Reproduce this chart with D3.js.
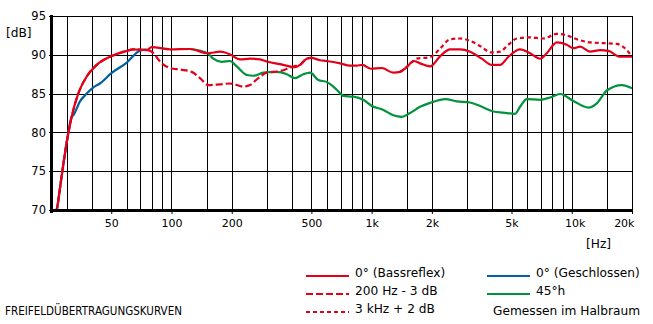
<!DOCTYPE html>
<html>
<head>
<meta charset="utf-8">
<script src="https://cdn.jsdelivr.net/npm/d3@7"></script>
<style>
  body { margin: 0; background: #fff; }
  text { font-family: "DejaVu Sans", Verdana, sans-serif; font-size: 12.2px; fill: #000; }
</style>
</head>
<body>
<div id="chart"></div>
<script>
// Margins, heights and widths
const margin = { top: 16, bottom: 114, left: 51, right: 21 };
const width = 653 - margin.left - margin.right;
const height = 324 - margin.top - margin.bottom;

// Frequency response data (Hz / dB)
const bassFreq = [25.5, 26.7, 28.3, 29.9, 31.7, 34.2, 37.7, 42.3, 49.9, 59.8, 64.2, 75.2, 79.6, 98.3, 123.8, 151.7, 174.8, 185.1, 197.7, 220, 246.9, 277, 302.6, 348.7, 414.3, 438.8, 474, 498.2, 552.5, 593.8, 695.5, 780.4, 842.6, 898.7, 993.4, 1123, 1284, 1387, 1509, 1616, 1746, 1959, 2198, 2466, 2767, 3105, 3552, 3985, 4383, 4824, 5518, 6191, 6946, 7503, 8417, 9445, 10190, 11005, 12348, 13855, 15245, 17446, 20000];
const bassDb = [68.5, 70.0, 74.5, 78.6, 82.0, 85.0, 87.2, 88.7, 89.8, 90.5, 90.7, 90.6, 91.0, 90.7, 90.75, 90.2, 90.4, 90.3, 90.0, 89.4, 89.5, 89.4, 89.1, 88.8, 88.4, 88.7, 89.5, 89.6, 89.3, 89.2, 88.9, 88.6, 88.6, 88.7, 88.2, 88.3, 87.7, 87.8, 88.5, 89.2, 88.9, 88.5, 89.8, 90.7, 90.7, 90.4, 89.5, 88.7, 88.7, 89.75, 90.7, 90.2, 89.5, 90.2, 91.6, 91.3, 90.85, 91.05, 90.4, 90.6, 90.5, 89.75, 89.75];

const lowCutFreq = [25.5, 26.7, 28.3, 29.9, 31.7, 34.2, 37.7, 42.3, 49.9, 59.8, 64.2, 75.2, 79.6, 89.4, 98.3, 110.3, 126.2, 138.8, 152.8, 174.8, 196.1, 228.6, 246.9, 271.6, 299.2, 348.7, 406.3, 438.8, 474, 498.2];
const lowCutDb = [68.5, 70.0, 74.5, 78.6, 82.0, 85.0, 87.2, 88.7, 89.8, 90.5, 90.7, 90.6, 90.4, 88.9, 88.3, 88.1, 87.8, 87.0, 86.1, 86.2, 86.3, 85.9, 86.1, 87.0, 87.7, 87.9, 88.5, 88.7, 89.5, 89.6];

const highBoostFreq = [1387, 1509, 1616, 1681, 1959, 2198, 2466, 2767, 3105, 3524, 3954, 4383, 4824, 5312, 6191, 7215, 8417, 9445, 10598, 12348, 14391, 16796, 18836, 20000];
const highBoostDb = [87.8, 88.5, 89.2, 89.5, 89.7, 90.8, 92.0, 92.1, 91.8, 91.05, 90.3, 90.4, 91.3, 92.1, 92.25, 92.1, 92.7, 92.5, 92.0, 91.6, 91.5, 91.4, 90.6, 89.75];

const closedFreq = [25.5, 26.7, 28.3, 29.9, 31.7, 32.3, 34.9, 37.7, 40.7, 43.9, 49.9, 59.8, 69.1, 75.2];
const closedDb = [68.5, 70.0, 74.5, 78.6, 82.0, 82.2, 84.0, 85.0, 85.8, 86.3, 87.6, 89.0, 90.5, 90.7];

const offAxisFreq = [123.8, 151.7, 161.8, 178.2, 196.1, 211.8, 237.7, 256.6, 287.8, 335.7, 376.6, 414.3, 455.8, 492.5, 541.8, 596.6, 669.5, 722.3, 810.6, 909.1, 1002, 1145, 1284, 1415, 1556, 1746, 1959, 2328, 2665, 3105, 3552, 4059, 4553, 5210, 5518, 5962, 6946, 7795, 8745, 10190, 12113, 13339, 14965, 17783, 20000];
const offAxisDb = [90.75, 90.2, 89.5, 89.1, 89.2, 88.5, 87.4, 87.3, 87.7, 87.8, 87.5, 87.0, 87.5, 87.7, 86.75, 86.5, 85.5, 84.7, 84.6, 84.2, 83.4, 82.9, 82.2, 82.0, 82.5, 83.3, 83.8, 84.3, 84.0, 83.85, 83.3, 82.7, 82.55, 82.4, 83.3, 84.3, 84.2, 84.5, 84.95, 84.05, 83.2, 83.75, 85.4, 86.1, 85.7];

// Axis ticks and grid
const xTickValues = [50, 100, 200, 500, 1000, 2000, 5000, 10000, 20000];
const xTickLabels = ["50", "100", "200", "500", "1k", "2k", "5k", "10k", "20k"];
const xGridValues = [30, 40, 50, 60, 70, 80, 90, 100, 150, 200, 300, 400, 500, 600, 700, 800, 900, 1000, 1500, 2000, 3000, 4000, 5000, 6000, 7000, 8000, 9000, 10000, 15000, 20000];
const yTickValues = [70, 75, 80, 85, 90, 95];

const red = "#e2001a";
const blue = "#0060a0";
const green = "#00933c";

const series = [
  { name: "0° (Geschlossen)", freq: closedFreq, db: closedDb, color: blue, dash: null },
  { name: "45°h", freq: offAxisFreq, db: offAxisDb, color: green, dash: null },
  { name: "200 Hz - 3 dB", freq: lowCutFreq, db: lowCutDb, color: red, dash: "7,3" },
  { name: "3 kHz + 2 dB", freq: highBoostFreq, db: highBoostDb, color: red, dash: "4,3" },
  { name: "0° (Bassreflex)", freq: bassFreq, db: bassDb, color: red, dash: null }
];

const svg = d3
  .select("#chart")
  .append("svg")
  .attr("width", width + margin.left + margin.right)
  .attr("height", height + margin.top + margin.bottom);

const g = svg.append("g").attr("transform", `translate(${margin.left},${margin.top})`);

// Scales setup
const xscale = d3.scaleLog().domain([25, 20000]).range([0, width]);
const yscale = d3.scaleLinear().domain([70, 95]).range([height, 0]);

// Grid
g.append("g")
  .selectAll("line")
  .data(xGridValues)
  .join("line")
  .attr("x1", (d) => Math.round(xscale(d)) + 0.5)
  .attr("x2", (d) => Math.round(xscale(d)) + 0.5)
  .attr("y1", 0)
  .attr("y2", height)
  .attr("stroke", "#000")
  .attr("stroke-width", 1);

g.append("g")
  .selectAll("line")
  .data(yTickValues)
  .join("line")
  .attr("x1", -2)
  .attr("x2", width)
  .attr("y1", (d) => Math.round(yscale(d)) + 0.5)
  .attr("y2", (d) => Math.round(yscale(d)) + 0.5)
  .attr("stroke", "#000")
  .attr("stroke-width", 1);

// Curves
const line = d3
  .line()
  .x((d) => xscale(d[0]))
  .y((d) => yscale(d[1]))
  .curve(d3.curveMonotoneX);

const plot = g.append("g");
plot.append("clipPath").attr("id", "clip").append("rect").attr("width", width).attr("height", height + 2);

plot
  .selectAll("path")
  .data(series)
  .join("path")
  .attr("clip-path", "url(#clip)")
  .attr("d", (s) => line(s.freq.map((f, i) => [f, s.db[i]])))
  .attr("fill", "none")
  .attr("stroke", (s) => s.color)
  .attr("stroke-width", 2.2)
  .attr("stroke-dasharray", (s) => s.dash);

// Axes
const xAxis = d3
  .axisBottom(xscale)
  .tickValues(xTickValues)
  .tickFormat((d, i) => xTickLabels[i])
  .tickSize(4)
  .tickSizeOuter(0)
  .tickPadding(5);
const gXaxis = g.append("g").attr("class", "x axis").attr("transform", `translate(0,${height})`).call(xAxis);
gXaxis.select(".domain").attr("stroke", "#000").attr("stroke-width", 3).attr("d", `M-1,0.5H${width + 1}`);
gXaxis.selectAll(".tick line").attr("stroke", "#000").attr("stroke-width", 1);
gXaxis.selectAll("text").style("font-family", "DejaVu Sans").style("font-size", "11px");
// last label sits inside the right edge
gXaxis.selectAll(".tick text").filter((d) => d === 20000).attr("text-anchor", "end").attr("dx", 2);
gXaxis.selectAll(".tick text").filter((d) => d === 10000).attr("dx", 3);

const yAxis = d3.axisLeft(yscale).tickValues(yTickValues).tickSize(0).tickPadding(5);
const gYaxis = g.append("g").attr("class", "y axis").call(yAxis);
gYaxis.select(".domain").attr("stroke", "#000").attr("stroke-width", 3).attr("d", `M0.5,-1V${height + 3}`);
gYaxis.selectAll("text").style("font-family", "DejaVu Sans").style("font-size", "11.5px");

// Unit labels
svg.append("text").attr("x", 6).attr("y", 37).text("[dB]");
svg.append("text").attr("x", 586).attr("y", 248).text("[Hz]");

// Legend
const legendRows = [
  { x: 306, y: 276, s: series[4] },
  { x: 306, y: 294, s: series[2] },
  { x: 306, y: 312, s: series[3] },
  { x: 487, y: 276, s: series[0] },
  { x: 487, y: 294, s: series[1] }
];

const legend = svg.append("g");
legend
  .selectAll("line")
  .data(legendRows)
  .join("line")
  .attr("x1", (d) => d.x)
  .attr("x2", (d) => d.x + 43)
  .attr("y1", (d) => d.y)
  .attr("y2", (d) => d.y)
  .attr("stroke", (d) => d.s.color)
  .attr("stroke-width", 2)
  .attr("stroke-dasharray", (d) => d.s.dash);

legend
  .selectAll("text")
  .data(legendRows)
  .join("text")
  .attr("x", (d) => d.x + 49)
  .attr("y", (d) => d.y + 1)
  .text((d) => d.s.name);

svg.append("text").attr("x", 493).attr("y", 315).text("Gemessen im Halbraum");
svg.append("text")
  .attr("x", 5)
  .attr("y", 315)
  .attr("textLength", 177)
  .attr("lengthAdjust", "spacingAndGlyphs")
  .text("FREIFELDÜBERTRAGUNGSKURVEN");
</script>
</body>
</html>
